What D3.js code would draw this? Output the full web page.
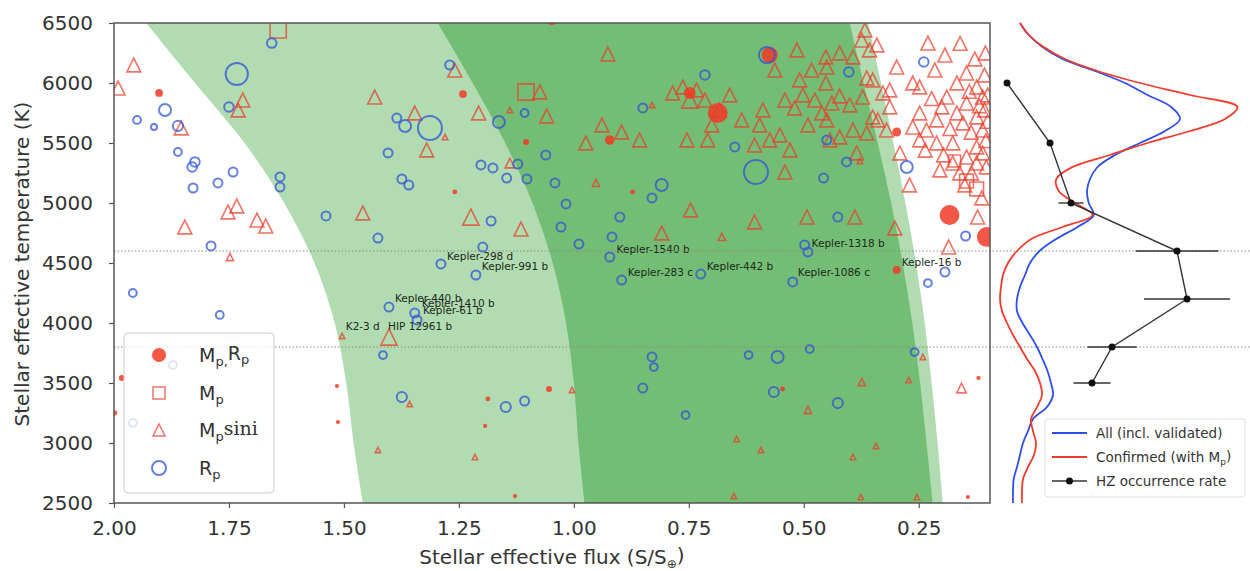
<!DOCTYPE html>
<html>
<head>
<meta charset="utf-8">
<script src="https://cdn.jsdelivr.net/npm/d3@7"></script>
<style>
  body { margin: 0; background: #fff; }
  text { font-family: "DejaVu Sans", sans-serif; }
</style>
</head>
<body>
<svg id="chart" width="1250" height="571"></svg>
<script>
// 1. Axis ticks
const fluxTicks = [2.0, 1.75, 1.5, 1.25, 1.0, 0.75, 0.5, 0.25];
const tempTicks = [2500, 3000, 3500, 4000, 4500, 5000, 5500, 6000, 6500];

// 2. Habitable zone limits (stellar flux at each temperature)
const hzTemp = [2500, 3000, 3500, 4000, 4500, 5000, 5500, 6000, 6500];
const recentVenus = [1.459, 1.479, 1.495, 1.520, 1.564, 1.630, 1.716, 1.824, 1.930];
const runawayGreenhouse = [0.977, 0.990, 1.000, 1.017, 1.046, 1.090, 1.149, 1.220, 1.296];
const maxGreenhouse = [0.220, 0.233, 0.247, 0.264, 0.285, 0.310, 0.339, 0.370, 0.400];
const earlyMars = [0.198, 0.209, 0.222, 0.237, 0.256, 0.279, 0.305, 0.332, 0.360];

// 3. Planets: [flux, Teff, planet size]
const massRadius = [
  [1.902,5917,1.3],[1.241,5908,1.3],[1.104,5508,1.0],[0.922,5525,1.6],[0.748,5917,2.0],
  [0.687,5750,3.3],[0.574,6233,2.7],[0.298,5592,1.5],[0.183,4900,3.3],[0.102,4717,3.3],
  [1.054,3450,1.0],[1.983,3542,1.0],[0.298,4442,1.3],[1.048,6540,2.3],[0.872,5092,0.8],
  [1.259,5092,0.8],[1.187,3367,0.8],[1.193,3142,0.7],[1.128,2558,0.7],[1.515,3475,0.7],
  [1.513,3175,0.7],[1.998,3250,0.8],[0.546,3450,0.8],[0.120,3542,0.7],[0.143,2550,0.7]
];
const massOnly = [
  [1.643,6442,2.7],[1.104,5925,2.7],[0.146,5183,2.3],[0.124,5117,2.3],[0.172,5350,2.0]
];
const minMass = [
  [1.957,6150,2.3],[1.991,5958,2.3],[1.854,5625,2.3],[1.846,4800,2.3],[1.752,4925,2.3],
  [1.733,4975,2.3],[1.689,4858,2.3],[1.670,4808,2.3],[1.730,5775,2.3],[1.720,5858,2.3],
  [1.459,4917,2.3],[1.433,5883,2.3],[1.346,5750,2.3],[1.320,5442,2.3],[1.402,3883,2.7],
  [1.224,4883,2.7],[1.115,4783,2.3],[1.259,6108,2.3],[1.207,5750,2.3],[1.139,5333,1.6],
  [1.074,5925,2.3],[1.059,5725,2.3],[0.926,6242,2.3],[0.974,5500,2.3],[0.939,5650,2.3],
  [0.896,5592,2.3],[0.857,5525,2.3],[0.754,5525,2.3],[0.709,5525,2.3],[0.809,4750,2.3],
  [0.746,4942,2.3],[0.607,4842,2.3],[0.493,4883,2.3],[0.389,4883,2.3],[0.302,4792,2.3],
  [0.785,5917,2.3],[0.763,5967,2.3],[0.733,5942,2.3],[0.748,5858,2.7],[0.715,5858,2.3],
  [0.700,5650,2.3],[0.635,5692,2.3],[0.596,5650,2.3],[0.574,5525,2.3],[0.552,5567,2.3],
  [0.530,5442,2.3],[0.607,5483,2.3],[0.563,6108,2.3],[0.515,6275,2.3],[0.483,6108,2.3],
  [0.452,6217,2.3],[0.422,6250,2.3],[0.393,6217,2.3],[0.374,6358,2.3],[0.357,6275,2.3],
  [0.341,6317,2.3],[0.367,6442,2.3],[0.450,6133,2.3],[0.363,6042,2.3],[0.502,5900,2.3],
  [0.476,5858,2.3],[0.452,6000,2.3],[0.422,5892,2.3],[0.461,5750,2.3],[0.400,5817,2.3],
  [0.439,5833,2.3],[0.372,5883,2.3],[0.350,5717,2.3],[0.393,5608,2.3],[0.422,5550,2.3],
  [0.450,5692,2.3],[0.363,5583,2.3],[0.320,5608,2.3],[0.339,5692,2.3],[0.385,5417,2.3],
  [0.520,5792,2.3],[0.491,5650,2.3],[0.443,5525,2.3],[0.541,5258,2.3],[0.589,5775,2.3],
  [0.541,5858,2.3],[0.509,6025,2.3],[0.683,5775,2.3],[0.661,5900,2.3],
  [0.230,6333,2.3],[0.298,6133,2.3],[0.215,6108,2.3],[0.263,6000,2.3],[0.313,5942,2.3],
  [0.248,5967,2.3],[0.189,5883,2.3],[0.167,6000,2.3],[0.146,6083,2.3],[0.124,5967,2.3],
  [0.111,5883,2.3],[0.146,5833,2.3],[0.167,5750,2.3],[0.211,5692,2.3],[0.248,5750,2.3],
  [0.263,5633,2.3],[0.233,5608,2.3],[0.248,5525,2.3],[0.211,5500,2.3],[0.176,5500,2.3],
  [0.154,5667,2.3],[0.124,5717,2.3],[0.111,5608,2.3],[0.124,5467,2.3],[0.146,5383,2.3],
  [0.176,5333,2.3],[0.204,5275,2.3],[0.161,5250,2.3],[0.124,5333,2.3],[0.111,5417,2.3],
  [0.313,5800,2.3],[0.328,5917,2.3],[0.350,6025,2.3],[0.185,4633,2.3],[0.122,4883,2.3],
  [0.113,5042,2.3],[0.157,3458,1.6],[0.107,5775,2.3],[0.107,6067,2.3],[0.193,6233,2.3],
  [0.291,5417,2.3],[0.270,5150,2.3],
  [0.100,5900,2.3],[0.100,5680,2.3],[0.104,5520,2.3],[0.118,5810,2.3],[0.136,5590,2.3],
  [0.140,5930,2.3],[0.200,5800,2.3],[0.222,5870,2.3],[0.182,5620,2.3],[0.196,5400,2.3],
  [0.236,5440,2.3],[0.150,5150,2.3],[0.128,6200,2.3],[0.160,6330,2.3],[0.105,6250,2.3],
  [0.135,5250,2.3],[0.103,5300,2.3],
  [1.504,3892,0.9],[1.426,2942,0.9],[1.357,3325,0.9],[1.215,2883,0.9],[1.004,3442,0.9],
  [0.646,3033,0.9],[0.593,2942,0.9],[0.652,2558,0.9],[0.491,3275,1.2],[0.374,3508,1.2],
  [0.272,3525,0.9],[0.241,3717,0.9],[0.343,2975,0.9],[0.393,2883,0.9],[0.376,2550,0.9],
  [0.254,2550,0.9],[1.139,5775,0.9],[1.280,5550,0.9],[0.830,5817,0.9],[0.952,5167,1.2],
  [0.678,4717,1.2],[0.378,5350,0.9],[1.748,4550,1.2]
];
const radiusOnly = [
  [1.950,5692,1.3],[1.913,5633,1.0],[1.889,5775,2.0],[1.861,5642,1.7],[1.861,5425,1.3],
  [1.830,5300,1.6],[1.824,5342,1.6],[1.828,5125,1.5],[1.774,5167,1.5],[1.741,5258,1.5],
  [1.789,4642,1.5],[1.733,6075,3.7],[1.750,5800,1.6],[1.657,6333,1.6],[1.639,5217,1.5],
  [1.639,5133,1.5],[1.539,4892,1.5],[1.426,4708,1.5],[1.385,5708,1.5],[1.367,5642,2.0],
  [1.404,5417,1.5],[1.374,5200,1.5],[1.359,5150,1.5],[1.959,4250,1.3],[1.770,4067,1.3],
  [1.402,4133,1.5],[1.415,3733,1.3],[1.374,3383,1.7],[1.148,3300,1.7],[1.107,3350,1.5],
  [0.830,3717,1.5],[0.826,3633,1.3],[0.850,3458,1.5],[0.757,3233,1.3],[0.620,3733,1.3],
  [0.557,3717,2.0],[0.487,3783,1.3],[0.565,3425,1.7],[0.259,3758,1.3],[0.426,3333,1.7],
  [0.230,4333,1.3],[0.239,6175,1.6],[0.148,4725,1.5],[0.193,4425,1.5],[0.276,5300,2.0],
  [0.402,6092,1.6],[0.450,5525,1.5],[0.407,5342,1.5],[0.457,5208,1.5],[0.426,4883,1.5],
  [0.498,4650,1.5],[0.491,4592,1.5],[1.270,6150,1.5],[1.107,5750,1.3],[1.163,5675,2.0],
  [1.313,5625,4.0],[0.715,6067,1.6],[0.850,5792,1.5],[0.580,6233,2.7],[0.650,5467,1.5],
  [0.604,5258,4.0],[1.202,5317,1.5],[1.176,5292,1.5],[1.122,5325,1.5],[1.146,5208,1.5],
  [1.102,5200,1.5],[1.061,5400,1.5],[1.041,5167,1.5],[1.017,4992,1.5],[1.028,4800,1.5],
  [0.989,4658,1.5],[1.180,4850,1.5],[0.809,5150,2.0],[0.830,5042,1.5],[0.900,4883,1.5],
  [0.917,4717,1.5],[0.922,4550,1.5],[0.896,4358,1.5],[1.289,4492,1.5],[1.213,4400,1.5],
  [1.198,4633,1.5],[1.346,4083,1.5],[1.341,4025,1.5],[0.724,4408,1.5],[0.524,4342,1.5],
  [1.872,3650,1.3],[1.959,3167,1.3]
];

// 4. Planet name labels: [name, flux, Teff]
const planetLabels = [
  ["Kepler-298 d", 1.276, 4558], ["Kepler-991 b", 1.200, 4475], ["Kepler-440 b", 1.389, 4208],
  ["Kepler-1410 b", 1.331, 4167], ["Kepler-61 b", 1.328, 4108], ["K2-3 d", 1.496, 3975],
  ["HIP 12961 b", 1.404, 3975], ["Kepler-1540 b", 0.907, 4617], ["Kepler-283 c", 0.883, 4425],
  ["Kepler-442 b", 0.711, 4475], ["Kepler-1318 b", 0.483, 4667], ["Kepler-1086 c", 0.513, 4425],
  ["Kepler-16 b", 0.287, 4508]
];

// 5. Right panel: temperature distributions and HZ occurrence rate
const kdeTemp = d3.range(6500, 2499, -100);
const kdeAll = [0.08,0.115,0.17,0.25,0.38,0.50,0.59,0.685,0.72,0.66,0.56,0.46,0.39,0.36,0.348,
  0.355,0.375,0.31,0.225,0.158,0.12,0.1,0.08,0.068,0.068,0.09,0.12,0.148,0.17,0.19,0.204,
  0.212,0.188,0.132,0.112,0.092,0.08,0.068,0.055,0.052,0.052];
const kdeConfirmed = [0.08,0.115,0.175,0.26,0.39,0.56,0.76,0.95,0.90,0.76,0.59,0.44,0.29,0.225,
  0.235,0.30,0.37,0.25,0.125,0.068,0.032,0.012,0.004,0,0.008,0.028,0.052,0.08,0.108,0.14,0.16,
  0.168,0.148,0.124,0.132,0.144,0.136,0.112,0.092,0.088,0.088];
const rateTemp = [6000, 5500, 5000, 4600, 4200, 3800, 3500];
const rateValue = [0.028, 0.2, 0.284, 0.708, 0.748, 0.448, 0.368];
const rateError = [0, 0, 0.05, 0.166, 0.172, 0.098, 0.074];
const guideTemps = [4600, 3800];

// Scales
const svg = d3.select("#chart");
const x = d3.scaleLinear().domain([2.0, 0.095]).range([114, 990]);
const y = d3.scaleLinear().domain([2500, 6500]).range([503, 23]);
const xr = d3.scaleLinear().domain([0, 1]).range([1000, 1250]);
const size = d3.scaleLinear().domain([0, 5]).range([0, 15]);

svg.append("defs").append("clipPath").attr("id", "plot-clip")
  .append("rect").attr("x", 114).attr("y", 23).attr("width", 876).attr("height", 480);

const plot = svg.append("g").attr("clip-path", "url(#plot-clip)");

// Habitable zone bands
const hz = hzTemp.map((t, i) => ({
  t, rv: recentVenus[i], rg: runawayGreenhouse[i], mg: maxGreenhouse[i], em: earlyMars[i]
}));
const band = (a, b) => d3.area()
  .y(d => y(d.t)).x0(d => x(d[a])).x1(d => x(d[b]))
  .curve(d3.curveMonotoneY);
plot.append("path").datum(hz).attr("d", band("rv", "em")).attr("fill", "#b1dbb1");
plot.append("path").datum(hz).attr("d", band("rg", "mg")).attr("fill", "#74bd74");

// Guide lines across both panels
svg.selectAll(".guide").data(guideTemps).join("line")
  .attr("x1", x(2.0)).attr("x2", 1250)
  .attr("y1", d => y(d)).attr("y2", d => y(d))
  .attr("stroke", "#888").attr("stroke-width", 1).attr("stroke-dasharray", "1.5,2");

// Marker shapes
const tri = r => `M0,${-r}L${r},${r}L${-r},${r}Z`;
const sq = r => `M${-r},${-r}h${2 * r}v${2 * r}h${-2 * r}Z`;
const at = d => `translate(${x(d[0])},${y(d[1])})`;

plot.append("g").selectAll("path").data(minMass).join("path")
  .attr("transform", at).attr("d", d => tri(size(d[2])))
  .attr("fill", "none").attr("stroke", "#e83d2a").attr("stroke-width", 1.6).attr("stroke-opacity", 0.72);

plot.append("g").selectAll("path").data(massOnly).join("path")
  .attr("transform", at).attr("d", d => sq(size(d[2])))
  .attr("fill", "none").attr("stroke", "#e83d2a").attr("stroke-width", 1.6).attr("stroke-opacity", 0.72);

plot.append("g").selectAll("circle").data(massRadius).join("circle")
  .attr("cx", d => x(d[0])).attr("cy", d => y(d[1])).attr("r", d => size(d[2]))
  .attr("fill", "#f23a26").attr("fill-opacity", 0.85);

plot.append("g").selectAll("circle").data(radiusOnly).join("circle")
  .attr("cx", d => x(d[0])).attr("cy", d => y(d[1])).attr("r", d => size(d[2]))
  .attr("fill", "none").attr("stroke", "#3156d6").attr("stroke-width", 2).attr("stroke-opacity", 0.75);

// Planet labels
plot.append("g").selectAll("text").data(planetLabels).join("text")
  .attr("x", d => x(d[1])).attr("y", d => y(d[2])).attr("dy", "0.35em")
  .attr("font-size", 10.5).attr("fill", "#1e2a1e").text(d => d[0]);

// Axes
const styleAxis = g => {
  g.select(".domain").remove();
  g.selectAll(".tick line").attr("stroke", "#555").attr("stroke-width", 1.2);
  g.selectAll(".tick text").attr("font-size", 20).attr("fill", "#333")
    .style("font-family", "'DejaVu Sans', sans-serif");
};
svg.append("g").attr("transform", "translate(0,503)")
  .call(d3.axisBottom(x).tickValues(fluxTicks).tickFormat(d3.format(".2f")).tickSize(5).tickPadding(13))
  .call(styleAxis);
svg.append("g").attr("transform", "translate(114,0)")
  .call(d3.axisLeft(y).tickValues(tempTicks).tickFormat(d3.format("d")).tickSize(5).tickPadding(16))
  .call(styleAxis);

svg.append("rect").attr("x", 114).attr("y", 23).attr("width", 876).attr("height", 480)
  .attr("fill", "none").attr("stroke", "#555").attr("stroke-width", 1.5);

// Rich text helper: parts are [text, isSub, fontFamily]
function richText(sel, parts, subSize) {
  let shifted = false;
  parts.forEach(([t, isSub, family]) => {
    const ts = sel.append("tspan").text(t);
    if (isSub && !shifted) { ts.attr("dy", "0.3em").attr("font-size", subSize); shifted = true; }
    else if (isSub) { ts.attr("font-size", subSize); }
    else if (shifted) { ts.attr("dy", "-0.3em"); shifted = false; }
    if (family) ts.style("font-family", family);
  });
}

// Axis titles
const xTitle = svg.append("text").attr("x", 552).attr("y", 564).attr("text-anchor", "middle")
  .attr("font-size", 20).attr("fill", "#333");
richText(xTitle, [["Stellar effective flux (S/S"], ["\u2295", true], [")"]], 12);

svg.append("text").attr("transform", "translate(29,264) rotate(-90)").attr("text-anchor", "middle")
  .attr("font-size", 20).attr("fill", "#333").text("Stellar effective temperature (K)");

// Left legend
const leg = svg.append("g");
leg.append("rect").attr("x", 124).attr("y", 333).attr("width", 150).attr("height", 160).attr("rx", 4)
  .attr("fill", "#fff").attr("fill-opacity", 0.8).attr("stroke", "#ccc");
const legRows = [355, 393, 430, 468];
leg.append("circle").attr("cx", 159).attr("cy", legRows[0]).attr("r", 7).attr("fill", "#f23a26").attr("fill-opacity", 0.85);
leg.append("path").attr("transform", `translate(159,${legRows[1]})`).attr("d", sq(6))
  .attr("fill", "none").attr("stroke", "#e83d2a").attr("stroke-width", 1.5).attr("stroke-opacity", 0.72);
leg.append("path").attr("transform", `translate(159,${legRows[2]})`).attr("d", tri(6))
  .attr("fill", "none").attr("stroke", "#e83d2a").attr("stroke-width", 1.5).attr("stroke-opacity", 0.72);
leg.append("circle").attr("cx", 159).attr("cy", legRows[3]).attr("r", 7)
  .attr("fill", "none").attr("stroke", "#3156d6").attr("stroke-width", 2).attr("stroke-opacity", 0.75);
const legText = [
  [["M"], ["p,", true], ["R"], ["p", true]],
  [["M"], ["p", true]],
  [["M"], ["p", true], ["sin", false, "'DejaVu Serif', serif"], ["i", false, "'DejaVu Serif', serif"]],
  [["R"], ["p", true]]
];
legText.forEach((parts, i) => {
  const t = leg.append("text").attr("x", 199).attr("y", legRows[i] + 7)
    .attr("font-size", 19).attr("fill", "#333");
  richText(t, parts, 13);
});

// Right panel: distributions
const line = vals => d3.line()
  .x((t, i) => xr(vals[i])).y(t => y(t))
  .curve(d3.curveCatmullRom);
svg.append("path").datum(kdeTemp).attr("d", line(kdeAll))
  .attr("fill", "none").attr("stroke", "#2f4ee6").attr("stroke-width", 1.8);
svg.append("path").datum(kdeTemp).attr("d", line(kdeConfirmed))
  .attr("fill", "none").attr("stroke", "#f03c2c").attr("stroke-width", 1.8);

// HZ occurrence rate with error bars
const rate = rateTemp.map((t, i) => ({ t, v: rateValue[i], e: rateError[i] }));
svg.append("g").selectAll("line").data(rate.filter(d => d.e > 0)).join("line")
  .attr("x1", d => xr(d.v - d.e)).attr("x2", d => xr(d.v + d.e))
  .attr("y1", d => y(d.t)).attr("y2", d => y(d.t))
  .attr("stroke", "#333").attr("stroke-width", 1.4);
svg.append("path").datum(rate)
  .attr("d", d3.line().x(d => xr(d.v)).y(d => y(d.t)))
  .attr("fill", "none").attr("stroke", "#333").attr("stroke-width", 1.4);
svg.append("g").selectAll("circle").data(rate).join("circle")
  .attr("cx", d => xr(d.v)).attr("cy", d => y(d.t)).attr("r", 3.5).attr("fill", "#111");

// Right legend
const rleg = svg.append("g");
rleg.append("rect").attr("x", 1045).attr("y", 419).attr("width", 200).attr("height", 78).attr("rx", 3)
  .attr("fill", "#fff").attr("fill-opacity", 0.8).attr("stroke", "#ddd");
const rRows = [433, 457, 481];
const rColors = ["#2f4ee6", "#f03c2c", "#333"];
rRows.forEach((ry, i) => {
  rleg.append("line").attr("x1", 1052).attr("x2", 1087).attr("y1", ry).attr("y2", ry)
    .attr("stroke", rColors[i]).attr("stroke-width", i < 2 ? 1.8 : 1.4);
});
rleg.append("circle").attr("cx", 1069.5).attr("cy", rRows[2]).attr("r", 3.5).attr("fill", "#111");
const rText = [
  [["All (incl. validated)"]],
  [["Confirmed (with M"], ["p", true], [")"]],
  [["HZ occurrence rate"]]
];
rText.forEach((parts, i) => {
  const t = rleg.append("text").attr("x", 1096).attr("y", rRows[i] + 5)
    .attr("font-size", 13.5).attr("fill", "#333");
  richText(t, parts, 9);
});
</script>
</body>
</html>
